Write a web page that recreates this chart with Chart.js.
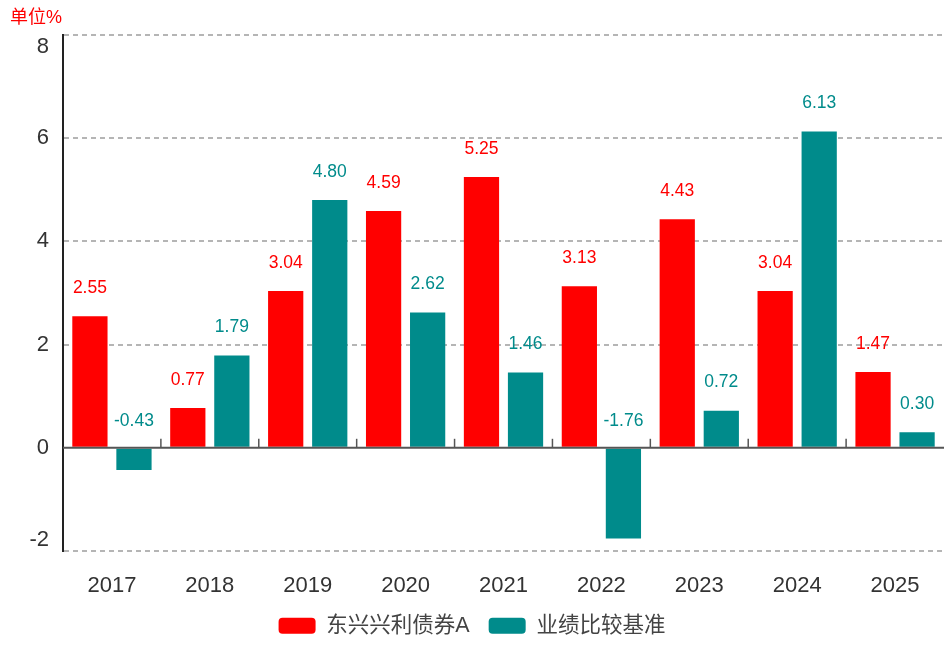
<!DOCTYPE html>
<html>
<head>
<meta charset="utf-8">
<script src="https://cdn.jsdelivr.net/npm/chart.js@4/dist/chart.umd.min.js"></script>
<style>
  body { margin: 0; background: #fff; }
  #wrap { width: 946px; height: 648px; }
</style>
</head>
<body>
<div id="wrap"><canvas id="returns" width="946" height="648"></canvas></div>
<script>
const years = ["2017", "2018", "2019", "2020", "2021", "2022", "2023", "2024", "2025"];
const fundValues = [2.55, 0.77, 3.04, 4.59, 5.25, 3.13, 4.43, 3.04, 1.47];
const benchValues = [-0.43, 1.79, 4.80, 2.62, 1.46, -1.76, 0.72, 6.13, 0.30];
const yTicks = [-2, 0, 2, 4, 6, 8];

const fontFamily = "'Liberation Sans', 'Noto Sans CJK SC', sans-serif";
const red = "#ff0000";
const teal = "#008b8b";

// extra drawing: unit label, y tick labels, zero line with small ticks, value labels
const extras = {
     id: "extras",
     afterDatasetsDraw(chart) {
          const ctx = chart.ctx;
          const area = chart.chartArea;
          const y = chart.scales.y;
          const x = chart.scales.x;
          const zero = y.getPixelForValue(0);

          ctx.save();

          // zero line
          ctx.strokeStyle = "#555";
          ctx.lineWidth = 2;
          ctx.beginPath();
          ctx.moveTo(area.left, zero);
          ctx.lineTo(area.right, zero);
          ctx.stroke();

          // little ticks between categories
          ctx.lineWidth = 1.5;
          for (let i = 1; i < years.length; i++) {
               const bx = (x.getPixelForValue(i - 1) + x.getPixelForValue(i)) / 2;
               ctx.beginPath();
               ctx.moveTo(bx, zero);
               ctx.lineTo(bx, zero - 9);
               ctx.stroke();
          }

          // y tick labels, kept inside the plot height
          ctx.fillStyle = "#333";
          ctx.font = "22px " + fontFamily;
          ctx.textAlign = "right";
          ctx.textBaseline = "middle";
          yTicks.forEach(v => {
               let py = y.getPixelForValue(v);
               py = Math.min(Math.max(py, area.top + 12), area.bottom - 11);
               ctx.fillText(String(v), area.left - 14, py);
          });

          // unit
          ctx.fillStyle = red;
          ctx.font = "18px " + fontFamily;
          ctx.textAlign = "left";
          ctx.fillText("单位%", 10, 18);

          // value labels
          ctx.font = "17.5px " + fontFamily;
          ctx.textAlign = "center";
          chart.data.datasets.forEach((ds, di) => {
               const meta = chart.getDatasetMeta(di);
               ctx.fillStyle = ds.backgroundColor;
               meta.data.forEach((bar, i) => {
                    const top = Math.min(bar.y, bar.base);
                    ctx.fillText(ds.data[i].toFixed(2), bar.x, top - 28);
               });
          });

          ctx.restore();
     }
};

new Chart("returns", {
     type: "bar",

     data: {
          labels: years,

          datasets: [{
               label: "东兴兴利债券A",
               backgroundColor: red,
               data: fundValues
          }, {
               label: "业绩比较基准",
               backgroundColor: teal,
               data: benchValues
          }]
     },

     options: {
          responsive: false,
          animation: false,
          categoryPercentage: 0.9,
          barPercentage: 0.8,
          layout: { padding: { top: 35, right: 2, bottom: 1.5, left: 0 } },

          plugins: {
               legend: {
                    position: "bottom",
                    labels: {
                         boxWidth: 37,
                         boxHeight: 16,
                         useBorderRadius: true,
                         borderRadius: 4,
                         padding: 19,
                         color: "#444",
                         font: { size: 21.5, family: fontFamily }
                    }
               },
               tooltip: { enabled: false }
          },

          scales: {
               x: {
                    grid: { display: false },
                    border: { display: false },
                    ticks: {
                         padding: 14,
                         color: "#333",
                         font: { size: 22, family: fontFamily }
                    },
                    afterFit: s => { s.height = 45; }
               },
               y: {
                    min: -2,
                    max: 8,
                    ticks: { stepSize: 2, display: false },
                    grid: {
                         color: c => c.tick && c.tick.value === 0 ? "rgba(0,0,0,0)" : "#b5b5b5",
                         lineWidth: 2,
                         drawTicks: false
                    },
                    border: { display: true, color: "#222", width: 2, dash: [5, 4] },
                    afterFit: s => { s.width = 63; }
               }
          }
     },

     plugins: [extras]
});
</script>
</body>
</html>
